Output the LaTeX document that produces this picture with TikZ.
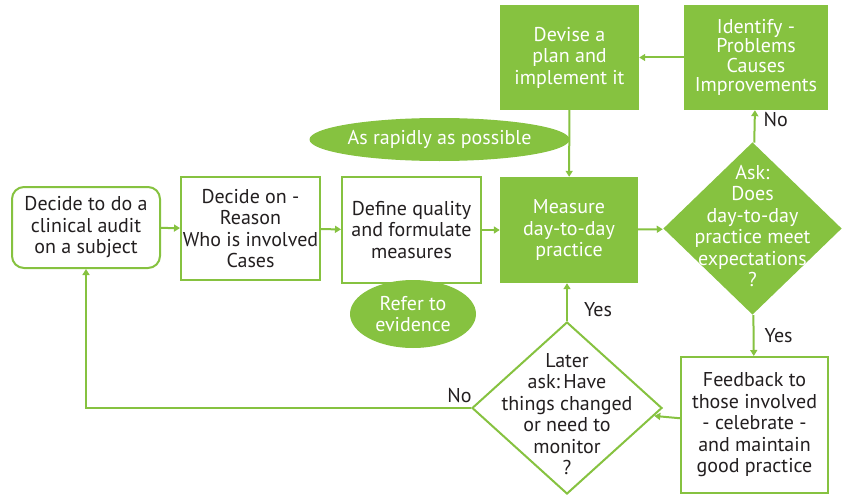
\documentclass[tikz,border=0pt]{standalone}
\usepackage{fontspec}
\setmainfont{PT Sans}
\usetikzlibrary{shapes.geometric,arrows.meta}
\definecolor{leaf}{RGB}{134,194,64}
\definecolor{ink}{RGB}{35,31,32}
\tikzset{
  base/.style={align=center,font=\fontsize{20}{21.5}\selectfont,inner sep=0pt},
  openbox/.style={base,draw=leaf,line width=2pt,fill=white,text=ink},
  solidbox/.style={base,fill=leaf,text=white},
  roundbox/.style={openbox,rounded corners=12pt},
  bubble/.style={base,ellipse,fill=leaf,text=white},
  dia/.style={diamond,inner sep=0pt,line width=2pt},
  link/.style={draw=leaf,line width=2pt,-{Triangle[length=6pt,width=7pt]}},
  tag/.style={font=\fontsize{20}{22}\selectfont,text=ink,inner sep=0pt}
}
\begin{document}
\begin{tikzpicture}[x=1pt,y=-1pt]
\useasboundingbox (0,0) rectangle (846,495);

% process boxes
\node[roundbox,minimum width=148,minimum height=81] (start) at (86,227.5)
  {Decide to do a\\clinical audit\\on a subject};
\node[openbox,minimum width=139,minimum height=103] (decide) at (250.5,228.5)
  {Decide on -\\Reason\\Who is involved\\Cases};
\node[openbox,minimum width=139,minimum height=106] (define) at (411.5,230)
  {Define quality\\and formulate\\measures};
\node[solidbox,minimum width=138,minimum height=106] (measure) at (569,230)
  {Measure\\day-to-day\\practice};
\node[solidbox,minimum width=139,minimum height=105] (devise) at (569.5,57.5)
  {Devise a\\plan and\\implement it};
\node[solidbox,minimum width=144,minimum height=105,font=\fontsize{20}{19.5}\selectfont] (identify) at (756,57.5)
  {Identify -\\Problems\\Causes\\Improvements};
\node[openbox,minimum width=147,minimum height=136] (feedback) at (754.5,425)
  {Feedback to\\those involved\\- celebrate -\\and maintain\\good practice};

% decisions
\node[dia,fill=leaf,minimum width=179,minimum height=173] (ask) at (752.5,228.5) {};
\node[base,text=white] at (752.5,226)
  {Ask:\\Does\\day-to-day\\practice meet\\expectations\\?};
\node[dia,draw=leaf,fill=white,minimum width=190,minimum height=172] (later) at (567,408) {};
\node[base,text=ink] at (567,414)
  {Later\\ask:\,Have\\things changed\\or need to\\monitor\\?};

% notes
\node[bubble,minimum width=235,minimum height=43] (rapid) at (439.5,139.5) {As rapidly as possible};
\node[bubble,minimum width=126,minimum height=68] (evidence) at (413,314) {Refer to\\evidence};

% connectors
\draw[link] (start) -- (decide);
\draw[link] (decide) -- (define);
\draw[link] (define) -- (measure);
\draw[link] (measure) -- (ask);
\draw[link] (ask) -- (identify) node[tag,pos=0.7,right=8pt] {No};
\draw[link] (identify) -- (devise);
\draw[link] (devise) -- (measure);
\draw[link] (ask) -- (feedback) node[tag,pos=0.5,right=10pt] {Yes};
\draw[link] (feedback) -- (later);
\draw[link] (later.north) -- (later.north |- measure.south) node[tag,pos=0.3,right=16pt] {Yes};
\draw[link] (later.west) -- (later.west -| start.south) node[tag,pos=0.03,above=4pt] {No} -- (start.south);
\end{tikzpicture}
\end{document}
